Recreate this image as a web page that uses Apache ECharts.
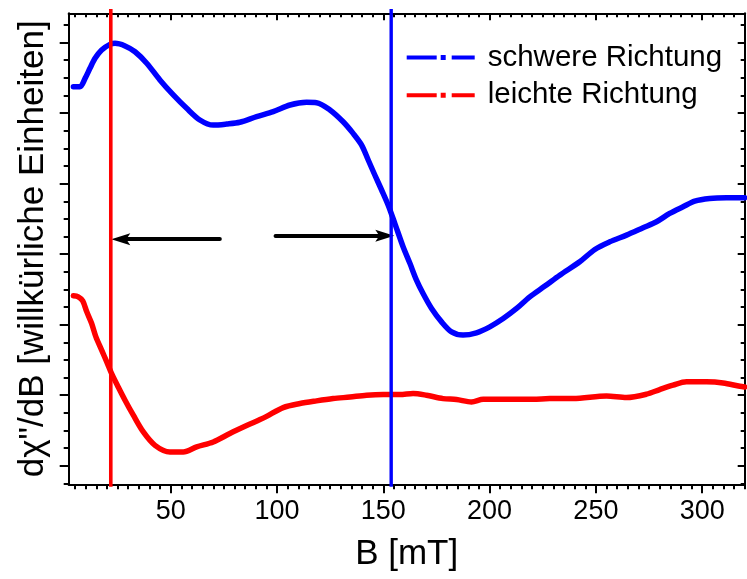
<!DOCTYPE html>
<html>
<head>
<meta charset="utf-8">
<script src="https://cdn.jsdelivr.net/npm/echarts@6/dist/echarts.min.js"></script>
<style>
  html, body { margin: 0; padding: 0; background: #fff; }
  #chart { width: 747px; height: 579px; }
</style>
</head>
<body>
<div id="chart"></div>
<script>
// Magnetic field B in mT and derivative signal (arbitrary units), hard axis
const fieldHard = [4.2, 7.3, 9.7, 12.0, 14.4, 17.5, 21.4, 23.8, 28.5, 33.2,
  38.7, 44.9, 51.2, 57.5, 63.7, 70.0, 76.3, 82.5, 90.4, 98.2,
  106.1, 113.9, 118.6, 124.9, 131.1, 135.8, 139.8, 142.9, 146.0, 149.2,
  152.3, 155.4, 159.3, 162.5, 165.6, 168.7, 172.7, 177.4, 182.1, 187.5,
  193.8, 200.1, 206.4, 212.7, 218.9, 226.0, 233.0, 242.4, 249.5, 256.5,
  264.4, 272.2, 278.5, 284.7, 291.0, 296.5, 303.5, 311.4, 320.0];
const signalHard = [22.50, 22.50, 22.97, 23.54, 24.11, 24.58, 24.90, 24.96, 24.81, 24.48,
  23.83, 22.88, 22.03, 21.27, 20.61, 20.32, 20.38, 20.48, 20.80, 21.08,
  21.46, 21.61, 21.59, 21.18, 20.51, 19.85, 19.19, 18.34, 17.49, 16.64,
  15.78, 14.75, 13.42, 12.48, 11.53, 10.77, 9.92, 9.16, 8.59, 8.41,
  8.54, 8.88, 9.35, 9.92, 10.58, 11.19, 11.81, 12.57, 13.27, 13.70,
  14.08, 14.50, 14.84, 15.31, 15.69, 16.01, 16.16, 16.20, 16.20];

// Easy axis
const fieldEasy = [4.2, 6.5, 8.6, 10.5, 12.8, 14.8, 17.5, 19.9, 22.2, 25.3,
  28.5, 32.4, 37.1, 42.6, 49.6, 55.9, 62.2, 70.0, 77.8, 85.7,
  92.0, 95.1, 102.9, 110.8, 118.6, 126.4, 134.3, 142.1, 149.9, 157.8,
  164.0, 170.3, 178.1, 184.4, 191.5, 197.0, 204.8, 212.7, 220.5, 228.3,
  239.3, 255.0, 264.4, 273.8, 280.0, 286.3, 292.6, 302.0, 309.8, 317.7,
  320.0];
const signalEasy = [10.64, 10.58, 10.35, 9.73, 9.07, 8.31, 7.56, 6.89, 6.23, 5.47,
  4.72, 3.87, 2.92, 2.16, 1.78, 1.78, 2.07, 2.35, 2.83, 3.28,
  3.62, 3.80, 4.30, 4.53, 4.68, 4.81, 4.90, 5.00, 5.04, 5.04,
  5.10, 5.00, 4.81, 4.76, 4.62, 4.77, 4.77, 4.77, 4.77, 4.81,
  4.81, 4.96, 4.87, 5.06, 5.32, 5.57, 5.76, 5.76, 5.70, 5.51,
  5.47];

// Resonance fields (vertical markers), mT
const resonanceEasy = 21.8;
const resonanceHard = 153.7;

// Arrow annotations: [startField, endField, level]
const arrowLeft = [73.1, 26.5, 13.85];
const arrowRight = [99.3, 150.7, 14.04];

// Axis ranges and ticks
const xRange = [2, 320];
const yRange = [-0.05, 26.66];
const xMajor = [50, 100, 150, 200, 250, 300];
const yMajor = [1, 5, 9, 13, 17, 21, 25];
const seriesNames = ['schwere Richtung', 'leichte Richtung'];

const xMinor = [];
for (let v = 5; v <= 320; v += 5) if (xMajor.indexOf(v) < 0) xMinor.push(v);
const yMinor = [];
for (let v = 0; v <= 26; v += 1) if (yMajor.indexOf(v) < 0) yMinor.push(v);

const FONT = '"Liberation Sans", Arial, Helvetica, sans-serif';
const BLACK = '#000000';

function pairs(xs, ys) { return xs.map((x, i) => [x, ys[i]]); }

function xAxisDef(position, values, len, inside, withLine, withLabel) {
  return {
    type: 'value', position: position, min: xRange[0], max: xRange[1],
    axisLine: { show: withLine, onZero: false, lineStyle: { color: BLACK, width: 2 } },
    axisTick: { show: true, inside: inside, length: len, customValues: values,
                lineStyle: { color: BLACK, width: 2 } },
    axisLabel: withLabel
      ? { show: true, customValues: xMajor, color: BLACK, fontSize: 27, fontFamily: FONT, margin: 14 }
      : { show: false },
    splitLine: { show: false }
  };
}
function yAxisDef(position, values, len, inside, withLine) {
  return {
    type: 'value', position: position, min: yRange[0], max: yRange[1],
    axisLine: { show: withLine, onZero: false, lineStyle: { color: BLACK, width: 2 } },
    axisTick: { show: true, inside: inside, length: len, customValues: values,
                lineStyle: { color: BLACK, width: 2 } },
    axisLabel: { show: false },
    splitLine: { show: false }
  };
}

const xAxes = [
  Object.assign(xAxisDef('bottom', xMajor, 9, false, true, true), {
    name: 'B [mT]', nameLocation: 'middle', nameGap: 53,
    nameTextStyle: { color: BLACK, fontSize: 35, fontFamily: FONT }
  }),
  xAxisDef('bottom', xMinor, 5, false, false, false),
  xAxisDef('top', xMajor, 7, true, true, false),
  xAxisDef('top', xMinor, 4, true, false, false)
];
const yAxes = [
  Object.assign(yAxisDef('left', yMajor, 9, false, true), {
    name: 'd\u03c7"/dB [willk\u00fcrliche Einheiten]', nameLocation: 'middle', nameRotate: 90, nameGap: 18,
    nameTextStyle: { color: BLACK, fontSize: 35, fontFamily: FONT }
  }),
  yAxisDef('left', yMinor, 5, false, false),
  yAxisDef('right', yMajor, 7, true, true),
  yAxisDef('right', yMinor, 4, true, false)
];

const arrowHead = 'path://M6,0L12,19L6,15L0,19Z';
function arrowLine(a) {
  return [
    { coord: [a[0], a[2]], symbol: 'none' },
    { coord: [a[1], a[2]], symbol: arrowHead, symbolSize: [12, 19], symbolKeepAspect: false }
  ];
}

const option = {
  animation: false,
  backgroundColor: '#ffffff',
  grid: { left: 68.7, right: 2.3, top: 13.3, bottom: 94.7, containLabel: false, outerBoundsMode: 'none' },
  xAxis: xAxes,
  yAxis: yAxes,
  legend: {
    data: seriesNames,
    orient: 'vertical',
    left: 401.7, top: 37.5,
    itemWidth: 68, itemHeight: 5, itemGap: 7.7,
    icon: 'path://M0,0.5h30v4h-30z M34,0h5v5h-5z M45,0.5h23v4h-23z',
    itemStyle: { borderWidth: 0 },
    selectedMode: false,
    textStyle: { color: BLACK, fontSize: 29.5, fontFamily: FONT, lineHeight: 29, padding: [0, 0, 0, 8] }
  },
  series: [
    {
      name: seriesNames[0], type: 'line', xAxisIndex: 0, yAxisIndex: 0,
      data: pairs(fieldHard, signalHard), smooth: 0.3, showSymbol: false, symbol: 'none',
      color: '#0000ff', itemStyle: { color: '#0000ff' },
      lineStyle: { color: '#0000ff', width: 5.5, cap: 'round', join: 'round' }, z: 2
    },
    {
      name: seriesNames[1], type: 'line', xAxisIndex: 0, yAxisIndex: 0,
      data: pairs(fieldEasy, signalEasy), smooth: 0.3, showSymbol: false, symbol: 'none',
      color: '#ff0000', itemStyle: { color: '#ff0000' },
      lineStyle: { color: '#ff0000', width: 5.5, cap: 'round', join: 'round' }, z: 2
    },
    {
      name: 'Resonanz leicht', type: 'line', clip: false, symbol: 'none', silent: true,
      data: [[resonanceEasy, -0.19], [resonanceEasy, 26.9]],
      lineStyle: { color: '#ff0000', width: 3.6 }, color: '#ff0000', z: 5
    },
    {
      name: 'Resonanz schwer', type: 'line', clip: false, symbol: 'none', silent: true,
      data: [[resonanceHard, -0.19], [resonanceHard, 26.9]],
      lineStyle: { color: '#0000ff', width: 3.4 }, color: '#0000ff', z: 5
    },
    {
      name: 'Pfeile', type: 'line', data: [], color: BLACK, silent: true, z: 6,
      markLine: {
        silent: true, animation: false,
        label: { show: false },
        lineStyle: { color: BLACK, width: 4, type: 'solid', cap: 'round' },
        itemStyle: { color: BLACK },
        emphasis: { disabled: true },
        data: [arrowLine(arrowLeft), arrowLine(arrowRight)]
      }
    }
  ]
};

const chart = echarts.init(document.getElementById('chart'), null, { renderer: 'canvas' });
chart.setOption(option);
</script>
</body>
</html>
